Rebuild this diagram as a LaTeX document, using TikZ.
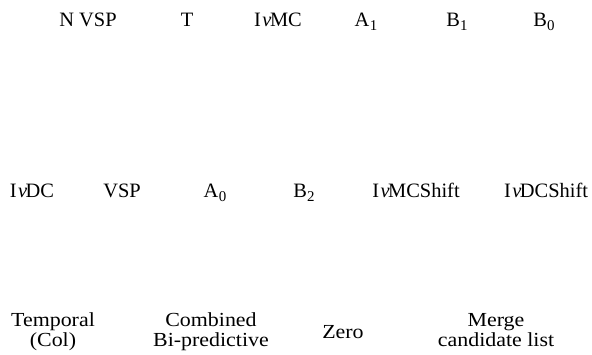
\documentclass[tikz,border=0pt]{standalone}
\usepackage{fontspec}
\setmainfont{Liberation Serif}
% lowered index digit, as in A_1
\newcommand{\lowidx}[1]{\kern0.3bp\raisebox{-4.5bp}{\fontsize{15}{15}\selectfont #1}}
% I followed by an italic v, as in IvMC
\newcommand{\Iv}{I\hspace{1.5bp}\textit{v}\hspace{-1.5bp}}
\begin{document}
\begin{tikzpicture}[x=1bp,y=-1bp,
  lbl/.style={anchor=base,inner sep=0pt,font=\fontsize{20.5}{22}\selectfont},
  cand/.style={anchor=base,inner sep=0pt,align=center,
    font=\fontsize{20}{19.5}\selectfont}]
\useasboundingbox (0,0) rectangle (592,354);
% first row of candidates
\node[lbl] (nvsp) at (88,26) {N VSP};
\node[lbl] (t)    at (187,26) {T};
\node[lbl] (ivmc) at (278,26) {\Iv MC};
\node[lbl] (a1)   at (366,26) {A\lowidx{1}};
\node[lbl] (b1)   at (457,26) {B\lowidx{1}};
\node[lbl] (b0)   at (544,26) {B\lowidx{0}};
% second row of candidates
\node[lbl] (ivdc)  at (32,197) {\Iv DC};
\node[lbl] (vsp)   at (122,197) {VSP};
\node[lbl] (a0)    at (215,197) {A\lowidx{0}};
\node[lbl] (b2)    at (304,197) {B\lowidx{2}};
\node[lbl] (ivmcs) at (416,197) {\Iv MCShift};
\node[lbl] (ivdcs) at (546,197) {\Iv DCShift};
% bottom row
\node[cand] (temp)  at (53,346)  {\scalebox{1.1}[1]{Temporal}\\\scalebox{1.1}[1]{(Col)}};
\node[cand] (comb)  at (211,346) {\scalebox{1.1}[1]{Combined}\\\scalebox{1.1}[1]{Bi-predictive}};
\node[cand] (zero)  at (343,338) {\scalebox{1.1}[1]{Zero}};
\node[cand] (merge) at (496,346) {\scalebox{1.1}[1]{Merge}\\\scalebox{1.1}[1]{candidate list}};
\end{tikzpicture}
\end{document}
